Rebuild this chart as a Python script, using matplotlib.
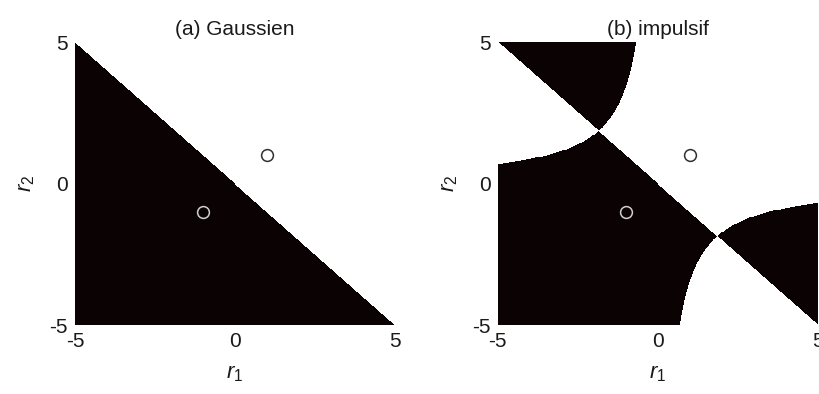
import numpy as np
import matplotlib
matplotlib.use('Agg')
import matplotlib.pyplot as plt
from matplotlib.colors import ListedColormap

plt.rcParams['font.family'] = 'Liberation Sans'
plt.rcParams['axes.unicode_minus'] = False
plt.rcParams['mathtext.fontset'] = 'custom'
plt.rcParams['mathtext.rm'] = 'Liberation Sans'
plt.rcParams['mathtext.it'] = 'Liberation Sans:italic'
plt.rcParams['mathtext.default'] = 'it'

# two antipodal symbols sent on two samples (r1, r2)
SYMBOL_R1 = [-1, 1]
SYMBOL_R2 = [-1, 1]
SYMBOL_COLORS = ['#d0d0d0', '#303030']

GRID_LIMIT = 5
GRID_POINTS = 321
CAUCHY_GAMMA = 1.58   # dispersion of the impulsive (Cauchy) noise

TICKS = [-5, 0, 5]
TITLES = ['(a) Gaussien', '(b) impulsif']

REGION_CMAP = ListedColormap(['white', '#0a0203'])
TEXT_COLOR = '#1a1a1a'


def gaussian_loglik(r1, r2, s):
    return -((r1 - s) ** 2 + (r2 - s) ** 2) / 2.0


def cauchy_loglik(r1, r2, s):
    g2 = CAUCHY_GAMMA ** 2
    return -np.log(g2 + (r1 - s) ** 2) - np.log(g2 + (r2 - s) ** 2)


def decision_region(loglik):
    r = np.linspace(-GRID_LIMIT, GRID_LIMIT, GRID_POINTS)
    R1, R2 = np.meshgrid(r, r)
    # 1 where the ML detector picks the symbol at (-1, -1)
    return (loglik(R1, R2, SYMBOL_R1[0]) > loglik(R1, R2, SYMBOL_R1[1])).astype(int)


def draw_panel(ax, mask, title):
    ax.imshow(mask, cmap=REGION_CMAP, origin='lower', interpolation='nearest',
              extent=[-GRID_LIMIT, GRID_LIMIT, -GRID_LIMIT, GRID_LIMIT], aspect='auto',
              vmin=0, vmax=1)
    for x, y, c in zip(SYMBOL_R1, SYMBOL_R2, SYMBOL_COLORS):
        ax.plot(x, y, 'o', ms=8.5, mfc='none', mec=c, mew=1.1)
    ax.set_xlim(-GRID_LIMIT, GRID_LIMIT)
    ax.set_ylim(-GRID_LIMIT, GRID_LIMIT)
    ax.set_xticks(TICKS)
    ax.set_yticks(TICKS)
    ax.tick_params(length=0, pad=5, labelsize=15, colors=TEXT_COLOR)
    for side in ax.spines.values():
        side.set_visible(False)
    ax.set_title(title, fontsize=15, pad=5, color=TEXT_COLOR)
    ax.set_xlabel('$r_1$', fontsize=16, labelpad=9, color=TEXT_COLOR)
    ax.set_ylabel('$r_2$', fontsize=16, labelpad=9, color=TEXT_COLOR)


fig = plt.figure(figsize=(8.2, 3.94), dpi=100)
ax_a = fig.add_axes([0.0915, 0.175, 0.390, 0.718])
ax_b = fig.add_axes([0.607, 0.175, 0.390, 0.718])

draw_panel(ax_a, decision_region(gaussian_loglik), TITLES[0])
draw_panel(ax_b, decision_region(cauchy_loglik), TITLES[1])

fig.savefig('out.png', dpi=100)
